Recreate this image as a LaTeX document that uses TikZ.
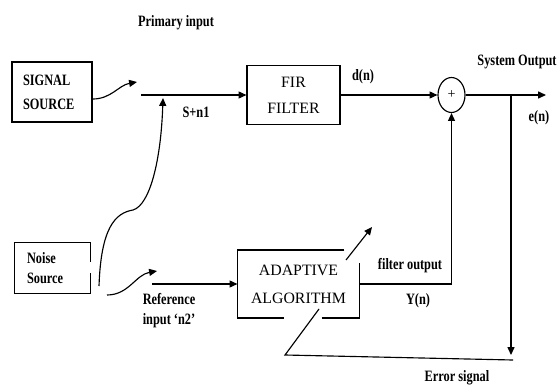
\documentclass[tikz,border=0pt]{standalone}
\usepackage{fontspec}
\setmainfont{Liberation Serif}
\newfontfamily\narrowfont[FakeStretch=0.78]{Liberation Serif}
\usetikzlibrary{arrows.meta,shapes.geometric}

\begin{document}
\begin{tikzpicture}[x=0.02cm,y=-0.02cm,line width=0.65pt,
  >={Triangle[length=4.5pt,width=4pt]},
  lbl/.style={font=\narrowfont\bfseries\fontsize{9}{11.3}\selectfont,inner sep=0pt,align=center},
  blk/.style={inner sep=0pt,font=\fontsize{9}{15}\selectfont,align=center}]
\useasboundingbox (0,0) rectangle (560,385);

% blocks
\node[draw,lbl,font=\narrowfont\bfseries\fontsize{9}{13.6}\selectfont,inner xsep=0.22cm,
  text width=1.16cm,align=left,minimum height=1.2cm] (signal) at (52,92) {SIGNAL\\SOURCE};
\node[lbl,inner xsep=0.24cm,text width=1.02cm,align=left,minimum height=1cm] (noise) at (52.5,268) {Noise\\Source};
\node[draw,blk,font=\fontsize{9}{14.7}\selectfont,minimum width=1.86cm,minimum height=1.18cm] (fir) at (293.5,95) {FIR\\FILTER};
\node[blk,font=\fontsize{9}{15.9}\selectfont,minimum width=2.42cm,minimum height=1.34cm] (adapt) at (298.5,284) {ADAPTIVE\\ALGORITHM};
\node[draw,ellipse,inner sep=0pt,minimum width=0.54cm,minimum height=0.7cm,font=\fontsize{8}{8}\selectfont] (sum) at (451.5,95) {+};

% open outlines
\draw (noise.north east) -- (noise.north west) -- (noise.south west) -- (noise.south east) -- ++(0,-21);
\draw (noise.north east) -- ++(0,20);
\draw (adapt.north west) ++(107,0) -- (adapt.north west) -- (adapt.south west) -- ++(47,0);
\draw (adapt.south east) ++(-38,0) -- (adapt.south east) -- ++(0,-55);

% labels
\node[lbl] (primlbl) at (176,23) {Primary input};
\node[lbl] (snlbl) at (196,112) {S+n1};
\node[lbl] (dlbl) at (363,77) {d(n)};
\node[lbl] (outlbl) at (517,62) {System Output};
\node[lbl] (elbl) at (539,118) {e(n)};
\node[lbl] (reflbl) at (169,311) {Reference\\input ‘n2’};
\node[lbl] (flbl) at (410,266) {filter output};
\node[lbl] (ylbl) at (418,301) {Y(n)};
\node[lbl] (errlbl) at (457,378) {Error signal};

\coordinate (sigtip) at (137,82);
\coordinate (prim) at (141,95);
\coordinate (mixtip) at (163,98);
\coordinate (noiseup) at (99,286);
\coordinate (noiseref) at (107,295);
\coordinate (reftip) at (157,271);
\coordinate (refin) at (152,284);
\coordinate (out) at (546,95);
\coordinate (tap) at (511,95);
\coordinate (errtip) at (511,355);
\coordinate (errr) at (513,360);
\coordinate (errl) at (285,355);
\coordinate (slash1) at (319,309);
\coordinate (slash2) at (346,260);
\coordinate (slashtip) at (372,227);

% connectors
\draw[->] ([yshift=-4]signal.east) to[out=0,in=190] (sigtip);
\draw[->] (prim) -- (fir.west);
\draw[->] (noiseup) .. controls (101,228) and (115,213) .. (133,210)
  .. controls (150,205) and (161,160) .. (mixtip);
\draw[->] (noiseref) to[out=0,in=190] (reftip);
\draw[->] (refin) -- (adapt.west);
\draw[->] (fir.east) -- (sum.west);
\draw[->] (sum.east) -- (out);
\draw[->] (tap) -- (errtip);
\draw (errr) -- (errl) -- (slash1);
\draw[->] (slash2) -- (slashtip);
\draw[->] (adapt.east) -| (sum.south);
\end{tikzpicture}
\end{document}
